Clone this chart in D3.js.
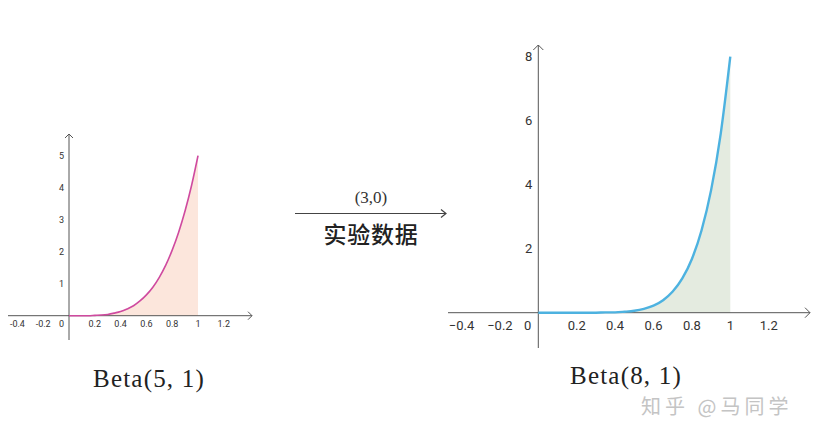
<!DOCTYPE html>
<html><head><meta charset="utf-8">
<script src="https://cdn.jsdelivr.net/npm/d3@7"></script>
<style>body{margin:0;background:#fff;}svg{display:block;}</style>
</head><body>
<svg id="c" width="818" height="429"></svg>
<script>
// ---- data ----
const xs = [0,0.05,0.1,0.15,0.2,0.25,0.3,0.35,0.4,0.45,0.5,0.55,0.6,0.65,0.7,0.75,0.8,0.85,0.9,0.95,1];
const beta51 = [0,0,0,0,0.01,0.02,0.04,0.08,0.13,0.21,0.31,0.46,0.65,0.89,1.2,1.58,2.05,2.61,3.28,4.07,5];
const beta81 = [0,0,0,0,0,0,0,0.01,0.01,0.03,0.06,0.12,0.22,0.39,0.66,1.07,1.68,2.57,3.83,5.59,8];
const xTicks = [-0.4,-0.2,0.2,0.4,0.6,0.8,1,1.2];
const xTickLabelsL = ["-0.4","-0.2","0.2","0.4","0.6","0.8","1","1.2"];
const xTickLabelsR = ["\u22120.4","\u22120.2","0.2","0.4","0.6","0.8","1","1.2"];
const yTicksL = [1,2,3,4,5];
const yTicksR = [2,4,6,8];
const titles = ["Beta(5, 1)","Beta(8, 1)"];
const arrowTop = "(3,0)";
const arrowBottom = "实验数据";
const watermark = "知乎 @马同学";

const svg = d3.select("#c");

function panel(o){
  const g = svg.append("g");
  const x = d3.scaleLinear().domain([0,1]).range([o.x0, o.x1]);
  const y = d3.scaleLinear().domain([0,o.ymax]).range([o.y0, o.y1]);
  const pts = xs.map((v,i)=>[v,o.data[i]]);
  // fill
  g.append("path").datum(pts)
    .attr("d", d3.area().x(d=>x(d[0])).y0(y(0)).y1(d=>y(d[1])).curve(d3.curveMonotoneX))
    .attr("fill", o.fill);
  // axes
  const ax = o.axisColor;
  g.append("line").attr("x1", o.axL).attr("x2", o.axR).attr("y1", y(0)).attr("y2", y(0))
    .attr("stroke", ax).attr("stroke-width", 1);
  g.append("line").attr("x1", x(0)).attr("x2", x(0)).attr("y1", o.ayB).attr("y2", o.ayT)
    .attr("stroke", ax).attr("stroke-width", 1);
  const a = o.arrow;
  g.append("path").attr("d", `M${o.axR-a},${y(0)-a} L${o.axR},${y(0)} L${o.axR-a},${y(0)+a}`)
    .attr("fill","none").attr("stroke", ax).attr("stroke-width",1);
  g.append("path").attr("d", `M${x(0)-a},${o.ayT+a} L${x(0)},${o.ayT} L${x(0)+a},${o.ayT+a}`)
    .attr("fill","none").attr("stroke", ax).attr("stroke-width",1);
  // tick labels
  g.selectAll(".xl").data(xTicks).join("text")
    .attr("x", d=>x(d)).attr("y", y(0)+o.xlDy)
    .attr("text-anchor","middle").attr("font-family","Roboto, 'Open Sans', sans-serif")
    .attr("font-size", o.fs).attr("fill","#333")
    .text((d,i)=>o.xLabels[i]);
  g.append("text").attr("x", x(0)-o.zeroDx).attr("y", y(0)+o.xlDy)
    .attr("text-anchor","end").attr("font-family","Roboto, 'Open Sans', sans-serif")
    .attr("font-size", o.fs).attr("fill","#333").text("0");
  g.selectAll(".yl").data(o.yTicks).join("text")
    .attr("x", x(0)-o.ylDx).attr("y", d=>y(d)).attr("dy","0.35em")
    .attr("text-anchor","end").attr("font-family","Roboto, 'Open Sans', sans-serif")
    .attr("font-size", o.fs).attr("fill","#333").text(d=>d);
  // curve
  g.append("path").datum(pts)
    .attr("d", d3.line().x(d=>x(d[0])).y(d=>y(d[1])).curve(d3.curveMonotoneX))
    .attr("fill","none").attr("stroke", o.stroke).attr("stroke-width", o.sw);
  // title
  g.append("text").attr("x", o.tx).attr("y", o.ty).attr("text-anchor","middle")
    .attr("font-family","'Liberation Serif', 'DejaVu Serif', serif").attr("font-size", 25)
    .attr("letter-spacing", 1.2).attr("fill","#222").text(o.title);
}

panel({x0:69, x1:198, y0:315.7, y1:155.7, ymax:5, data:beta51, fill:"#fce6dc",
  stroke:"#cf4a9f", sw:1.6, axisColor:"#555", axL:8, axR:252, ayT:134, ayB:340, arrow:4,
  fs:9, xlDy:11, zeroDx:5, ylDx:5, xLabels:xTickLabelsL, yTicks:yTicksL,
  title:titles[0], tx:149, ty:387});

panel({x0:538.3, x1:730.3, y0:312.7, y1:56.7, ymax:8, data:beta81, fill:"#e4ebe0",
  stroke:"#4db2e0", sw:2.4, axisColor:"#555", axL:448, axR:810, ayT:45, ayB:348, arrow:5,
  fs:13, xlDy:17, zeroDx:7, ylDx:6, xLabels:xTickLabelsR, yTicks:yTicksR,
  title:titles[1], tx:626, ty:384});

// middle arrow
svg.append("line").attr("x1",295).attr("x2",446).attr("y1",213.5).attr("y2",213.5)
  .attr("stroke","#444").attr("stroke-width",1.2);
svg.append("path").attr("d","M441,209.5 L446,213.5 L441,217.5").attr("fill","none")
  .attr("stroke","#444").attr("stroke-width",1.2);
svg.append("text").attr("x",371).attr("y",203).attr("text-anchor","middle")
  .attr("font-family","'Liberation Serif', serif").attr("font-size",17).attr("fill","#333").text(arrowTop);
svg.append("text").attr("x",371).attr("y",243).attr("text-anchor","middle")
  .attr("font-family","'Noto Sans CJK SC', sans-serif").attr("font-size",23).attr("font-weight",500)
  .attr("letter-spacing",0.8).attr("fill","#222").text(arrowBottom);
// watermark
svg.append("text").attr("x",641).attr("y",414).attr("text-anchor","start")
  .attr("font-family","'Noto Sans CJK SC', sans-serif").attr("font-size",20)
  .attr("fill","#c4c4c4").attr("letter-spacing",4).text(watermark);
</script>
</body></html>
